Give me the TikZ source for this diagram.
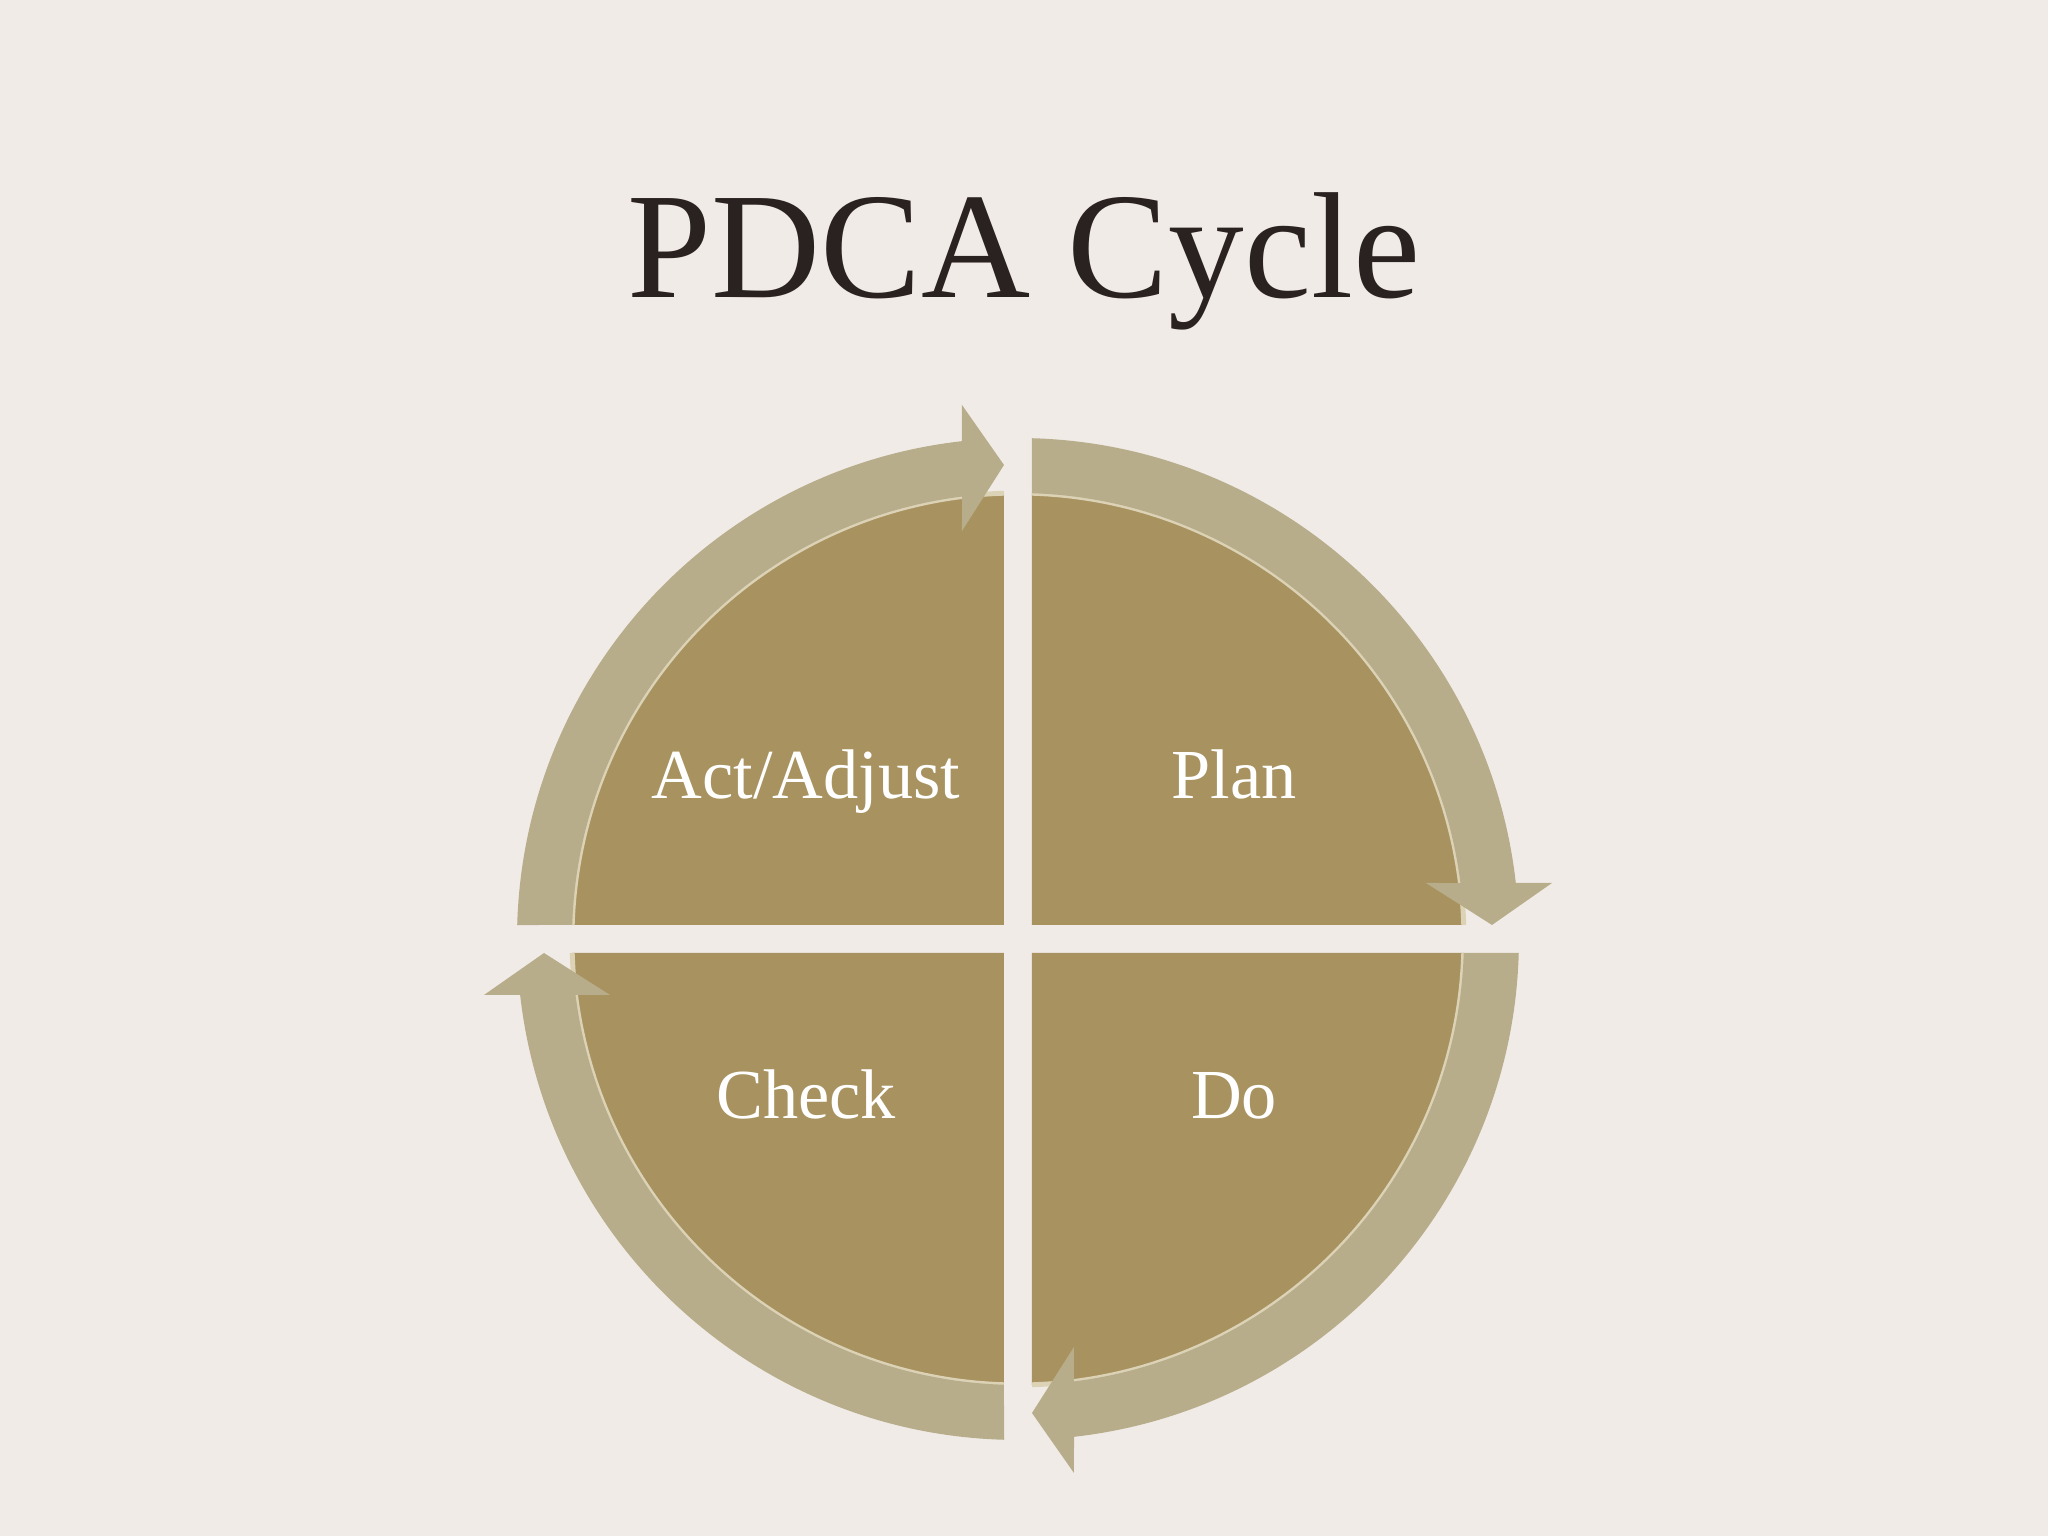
\documentclass[tikz,border=0pt]{standalone}
\usepackage{tikz}
\usepackage{fontspec}
\setmainfont{Liberation Serif}
\newcommand{\rin}{4.46}
\newcommand{\rout}{5.01}
\definecolor{paper}{HTML}{F1EBE7}
\definecolor{quarterfill}{HTML}{A89360}
\definecolor{ringfill}{HTML}{B8AD8A}
\definecolor{edgeline}{HTML}{DCD2B6}
\definecolor{ink}{HTML}{2A2220}

\begin{document}
\begin{tikzpicture}[
    quarter/.style={fill=quarterfill},
    rim/.style={draw=edgeline, line width=1.4pt},
    ring/.style={fill=ringfill},
    stage/.style={text=white, anchor=base, font=\fontsize{20}{24}\selectfont},
    quartershape/.style={insert path={(-0.14,0.14) -- (91.8:\rin) arc[start angle=91.8, end angle=178.2, radius=\rin] -- cycle}},
    rimshape/.style={insert path={(91.8:\rin) arc[start angle=91.8, end angle=178.2, radius=\rin]}},
    ringshape/.style={insert path={(178.2:\rin) -- (178.4:\rout) arc[start angle=178.4, end angle=96.42, radius=\rout]
        -- (-0.56,5.34) -- (-0.14,4.74) -- (-0.56,4.08) -- (97.21:\rin) arc[start angle=97.21, end angle=178.2, radius=\rin] -- cycle}}]
    % Background
    \fill[paper] (-10.18,-5.97) rectangle (10.30,9.39);
    \useasboundingbox (-10.18,-5.97) rectangle (10.30,9.39);

    % Title
    \node[text=ink, anchor=base, font=\fontsize{43}{50}\selectfont] (title) at (0.06,6.41) {PDCA Cycle};

    % Quarters
    \fill[quarter, rotate=0, quartershape];
    \fill[quarter, rotate=-90, quartershape];
    \fill[quarter, rotate=-180, quartershape];
    \fill[quarter, rotate=-270, quartershape];
    \draw[rim, rotate=0, rimshape];
    \draw[rim, rotate=-90, rimshape];
    \draw[rim, rotate=-180, rimshape];
    \draw[rim, rotate=-270, rimshape];

    % Ring arrows
    \fill[ring, rotate=0, ringshape];
    \fill[ring, rotate=-90, ringshape];
    \fill[ring, rotate=-180, ringshape];
    \fill[ring, rotate=-270, ringshape];

    % Labels
    \node[stage] (act) at (-2.12,1.40) {Act/Adjust};
    \node[stage] (plan) at (2.16,1.40) {Plan};
    \node[stage] (check) at (-2.12,-1.80) {Check};
    \node[stage] (do) at (2.16,-1.80) {Do};
\end{tikzpicture}
\end{document}
